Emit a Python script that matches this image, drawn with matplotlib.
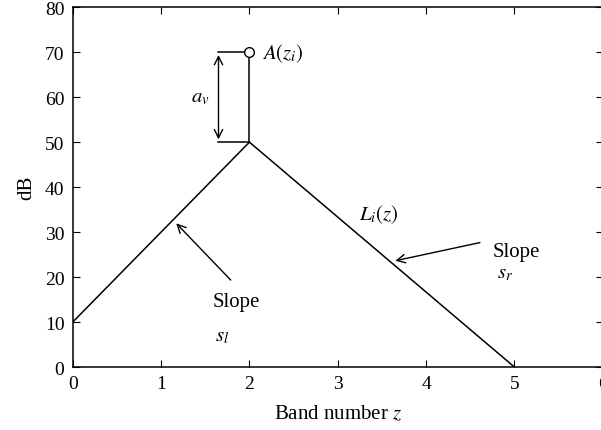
import matplotlib
matplotlib.use("Agg")
import matplotlib.pyplot as plt

plt.rcParams['font.family'] = ['Liberation Serif', 'DejaVu Serif']
plt.rcParams['mathtext.fontset'] = 'stix'

# piecewise spreading curve
band = [0, 2, 5]
level = [10, 50, 0]

# peak / masking offset
peak_z = 2
peak_top = 70
offset_left = 1.65

fig = plt.figure(figsize=(6.01, 4.31), dpi=100)
ax = fig.add_axes([0.121, 0.146, 0.882, 0.835])

ax.plot(band, level, color='black', lw=1.1)
ax.plot([peak_z, peak_z], [level[1], peak_top], color='black', lw=1.1)
ax.plot([offset_left, peak_z], [peak_top, peak_top], color='black', lw=1.1)
ax.plot([offset_left, peak_z], [level[1], level[1]], color='black', lw=1.1)
ax.plot([peak_z], [peak_top], marker='o', ms=7, mfc='white', mec='black', mew=1.0, zorder=5)

ax.annotate('', xy=(offset_left, peak_top), xytext=(offset_left, level[1]),
            arrowprops=dict(arrowstyle='<->', color='black', lw=1.0, mutation_scale=15))
ax.text(1.44, 60, r'$a_v$', fontsize=15, ha='center', va='center')
ax.text(2.14, 70, r'$A(z_i)$', fontsize=15, ha='left', va='center')
ax.text(3.47, 34, r'$L_i(z)$', fontsize=15, ha='center', va='center')

ax.annotate('', xy=(1.15, 32.4), xytext=(1.81, 18.9),
            arrowprops=dict(arrowstyle='->', color='black', lw=1.0, mutation_scale=15))
ax.text(1.85, 14.5, 'Slope', fontsize=15, ha='center', va='center')
ax.text(1.69, 7, r'$s_l$', fontsize=15, ha='center', va='center')

ax.annotate('', xy=(3.62, 23.5), xytext=(4.64, 27.8),
            arrowprops=dict(arrowstyle='->', color='black', lw=1.0, mutation_scale=15))
ax.text(4.75, 25.8, 'Slope', fontsize=15, ha='left', va='center')
ax.text(4.8, 21, r'$s_r$', fontsize=15, ha='left', va='center')

ax.set_xlim(0, 6)
ax.set_ylim(0, 80)
ax.set_xticks(range(0, 7))
ax.set_yticks(range(0, 81, 10))
ax.tick_params(direction='in', top=True, right=True, labelsize=14, length=5, pad=6)
ax.set_xlabel(r'Band number $z$', fontsize=15, labelpad=8)
ax.set_ylabel('dB', fontsize=15, labelpad=6)
for s in ax.spines.values():
    s.set_linewidth(1.1)

fig.savefig("out.png", dpi=100)
